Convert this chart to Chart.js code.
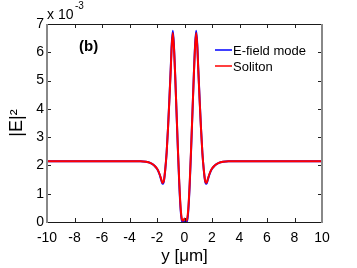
<!DOCTYPE html>
<html lang="en">
<head>
  <meta charset="UTF-8" />
  <title>|E|^2 profile</title>
  <script src="https://cdn.jsdelivr.net/npm/chart.js"></script>
  <style>
    body { margin: 0; background: #fff; }
    #wrap { width: 357px; height: 268px; }
  </style>
</head>
<body>
  <div id="wrap"><canvas id="chart" width="357" height="268"></canvas></div>

  <script>
    // y position in micrometres
    const yPos = [-10, -8, -6, -4, -3.2, -2.8, -2.5, -2.2, -2.0, -1.9, -1.8, -1.7, -1.6, -1.5, -1.4, -1.3, -1.2, -1.1, -1.0, -0.93,
      -0.85, -0.77, -0.68, -0.58, -0.48, -0.38, -0.28, -0.18, -0.1, 0, 0.1, 0.18, 0.28, 0.38, 0.48, 0.58, 0.68, 0.77, 0.85,
      0.93, 1.0, 1.1, 1.2, 1.3, 1.4, 1.5, 1.6, 1.7, 1.8, 1.9, 2.0, 2.2, 2.5, 2.8, 3.2, 4, 6, 8, 10];
    // |E|^2 in units of 1e-3
    const soliton = [2.15, 2.15, 2.15, 2.15, 2.15, 2.13, 2.09, 2.0, 1.89, 1.8, 1.68, 1.53, 1.38, 1.46, 1.86, 2.45, 3.3, 4.3, 5.4, 6.2,
      6.68, 6.2, 5.2, 3.9, 2.6, 1.4, 0.5, 0.08, 0.04, 0.12, 0.04, 0.08, 0.5, 1.4, 2.6, 3.9, 5.2, 6.2, 6.68,
      6.2, 5.4, 4.3, 3.3, 2.45, 1.86, 1.46, 1.38, 1.53, 1.68, 1.8, 1.89, 2.0, 2.09, 2.13, 2.15, 2.15, 2.15, 2.15, 2.15];
    const efieldMode = [2.15, 2.15, 2.15, 2.15, 2.15, 2.13, 2.09, 2.0, 1.88, 1.79, 1.66, 1.5, 1.35, 1.44, 1.85, 2.45, 3.32, 4.35, 5.45, 6.28,
      6.76, 6.26, 5.22, 3.88, 2.55, 1.33, 0.42, 0.03, 0.0, 0.02, 0.0, 0.03, 0.42, 1.33, 2.55, 3.88, 5.22, 6.26, 6.76,
      6.28, 5.45, 4.35, 3.32, 2.45, 1.85, 1.44, 1.35, 1.5, 1.66, 1.79, 1.88, 2.0, 2.09, 2.13, 2.15, 2.15, 2.15, 2.15, 2.15];
    const xTicks = [-10, -8, -6, -4, -2, 0, 2, 4, 6, 8, 10];
    const yTicks = [0, 1, 2, 3, 4, 5, 6, 7];

    const FONT = '"Liberation Sans", Arial, sans-serif';

    const toPoints = arr => arr.map((v, i) => ({ x: yPos[i], y: v }));

    // frame, inward ticks, panel label, exponent, legend
    const decor = {
      id: 'decor',
      afterDatasetsDraw(chart) {
        const c = chart.ctx;
        const a = chart.chartArea;
        const sx = chart.scales.x, sy = chart.scales.y;
        c.save();
        // ticks (inward, all four sides)
        c.strokeStyle = '#222';
        c.lineWidth = 1;
        c.beginPath();
        xTicks.forEach(t => {
          const px = Math.round(sx.getPixelForValue(t)) + 0.5;
          c.moveTo(px, a.bottom); c.lineTo(px, a.bottom - 4);
          c.moveTo(px, a.top); c.lineTo(px, a.top + 4);
        });
        yTicks.forEach(t => {
          const py = Math.round(sy.getPixelForValue(t)) + 0.5;
          c.moveTo(a.left, py); c.lineTo(a.left + 4, py);
          c.moveTo(a.right, py); c.lineTo(a.right - 4, py);
        });
        c.stroke();
        // frame: horizontal dark, vertical grey
        c.strokeStyle = '#1a1a1a';
        c.beginPath();
        c.moveTo(a.left, a.top + 0.5); c.lineTo(a.right, a.top + 0.5);
        c.moveTo(a.left, a.bottom + 0.5); c.lineTo(a.right, a.bottom + 0.5);
        c.stroke();
        c.strokeStyle = '#888';
        c.lineWidth = 2;
        c.beginPath();
        c.moveTo(a.left, a.top); c.lineTo(a.left, a.bottom + 1);
        c.moveTo(a.right, a.top); c.lineTo(a.right, a.bottom + 1);
        c.stroke();

        c.fillStyle = '#000';
        c.textBaseline = 'middle';
        // panel label
        c.font = 'bold 15px ' + FONT;
        c.textAlign = 'left';
        c.fillText('(b)', 79, 47);
        // exponent
        c.font = '14px ' + FONT;
        c.fillText('x 10', 47, 15);
        c.font = '10px ' + FONT;
        c.fillText('-3', 75, 6);

        // legend
        c.font = '13px ' + FONT;
        chart.data.datasets.forEach((ds, i) => {
          const ly = 50 + i * 16;
          c.strokeStyle = ds.borderColor;
          c.lineWidth = 1.5;
          c.beginPath();
          c.moveTo(215, ly); c.lineTo(232, ly);
          c.stroke();
          c.fillText(ds.label, 233, ly + 1);
        });
        c.restore();
      }
    };

    new Chart(document.getElementById('chart'), {
      type: 'line',
      data: {
        datasets: [
          { label: 'E-field mode', data: toPoints(efieldMode), borderColor: '#0000ff', borderWidth: 2,
            pointRadius: 0, cubicInterpolationMode: 'monotone', order: 2 },
          { label: 'Soliton', data: toPoints(soliton), borderColor: '#ff0000', borderWidth: 2,
            pointRadius: 0, cubicInterpolationMode: 'monotone', order: 1 }
        ]
      },
      options: {
        responsive: false,
        animation: false,
        layout: { padding: { left: 0, top: 24, right: 35, bottom: 0 } },
        plugins: { legend: { display: false }, tooltip: { enabled: false } },
        scales: {
          x: {
            type: 'linear', min: -10, max: 10,
            afterFit: s => { s.height = 46; },
            afterBuildTicks: s => { s.ticks = xTicks.map(v => ({ value: v })); },
            grid: { display: false, drawTicks: false },
            border: { display: false },
            ticks: { color: '#000', padding: 8, font: { family: FONT, size: 14 } },
            title: { display: true, text: 'y [\u03bcm]', color: '#000', padding: { top: 0, bottom: 1 },
              font: { family: FONT, size: 17 } }
          },
          y: {
            min: 0, max: 7,
            afterFit: s => { s.width = 47; },
            afterBuildTicks: s => { s.ticks = yTicks.map(v => ({ value: v })); },
            grid: { display: false, drawTicks: false },
            border: { display: false },
            ticks: { color: '#000', padding: 3, font: { family: FONT, size: 14 } },
            title: { display: true, text: '|E|\u00b2', color: '#000', padding: { top: 6, bottom: 0 },
              font: { family: FONT, size: 18 } }
          }
        }
      },
      plugins: [decor]
    });
  </script>
</body>
</html>
